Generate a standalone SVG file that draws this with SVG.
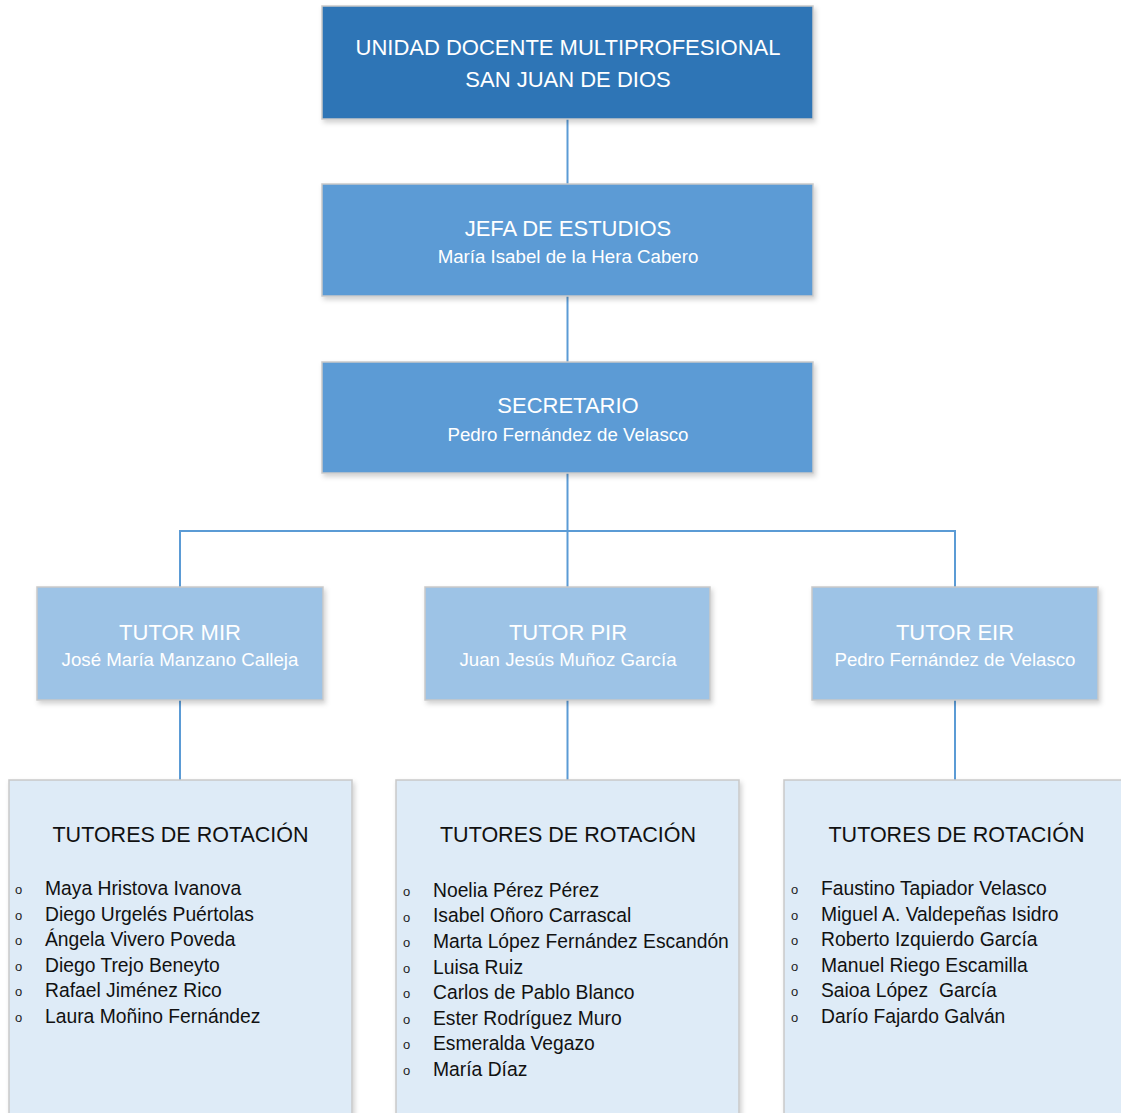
<svg xmlns="http://www.w3.org/2000/svg" width="1121" height="1113" viewBox="0 0 1121 1113">
<defs>
<filter id="sh" x="-5%" y="-5%" width="112%" height="115%">
<feDropShadow dx="2" dy="3" stdDeviation="2.5" flood-color="#000" flood-opacity="0.18"/>
</filter>
<style>
.box{stroke:#C9C9C9;stroke-width:1.5;filter:url(#sh)}
.b1{fill:#2E75B6}.b2{fill:#5B9BD5}.b3{fill:#9DC3E6}.b4{fill:#DEEBF7}
.t{font-family:"Liberation Sans",Arial,sans-serif;fill:#fff;text-anchor:middle}
.tt{font-size:22px}.ts{font-size:18.7px}
.h{font-family:"Liberation Sans",Arial,sans-serif;font-size:21.5px;fill:#111;text-anchor:middle}
.li{font-family:"Liberation Sans",Arial,sans-serif;font-size:19.3px;fill:#111}
.bu{font-family:"Liberation Sans",Arial,sans-serif;font-size:13px;fill:#222}
.c{stroke:#5B9BD5;stroke-width:2;fill:none}
</style>
</defs>
<rect width="1121" height="1113" fill="#fff"/>
<g id="connectors">
<line class="c" x1="567.5" y1="119" x2="567.5" y2="184"/>
<line class="c" x1="567.5" y1="296" x2="567.5" y2="362"/>
<line class="c" x1="567.5" y1="473" x2="567.5" y2="587"/>
<polyline class="c" points="180,587 180,531 955,531 955,587"/>
<line class="c" x1="180" y1="700" x2="180" y2="780"/>
<line class="c" x1="567.5" y1="700" x2="567.5" y2="780"/>
<line class="c" x1="955" y1="700" x2="955" y2="780"/>
</g>
<g id="unidad">
<rect class="box b1" x="322" y="6" width="491" height="113"/>
<text class="t tt" x="568" y="55">UNIDAD DOCENTE MULTIPROFESIONAL</text>
<text class="t tt" x="568" y="87">SAN JUAN DE DIOS</text>
</g>
<g id="jefa">
<rect class="box b2" x="322" y="184" width="491" height="112"/>
<text class="t tt" x="568" y="236">JEFA DE ESTUDIOS</text>
<text class="t ts" x="568" y="263">María Isabel de la Hera Cabero</text>
</g>
<g id="secretario">
<rect class="box b2" x="322" y="362" width="491" height="111"/>
<text class="t tt" x="568" y="413">SECRETARIO</text>
<text class="t ts" x="568" y="441">Pedro Fernández de Velasco</text>
</g>
<g id="tutor-mir">
<rect class="box b3" x="37" y="587" width="286" height="113"/>
<text class="t tt" x="180" y="640">TUTOR MIR</text>
<text class="t ts" x="180" y="666">José María Manzano Calleja</text>
</g>
<g id="tutor-pir">
<rect class="box b3" x="425" y="587" width="285" height="113"/>
<text class="t tt" x="568" y="640">TUTOR PIR</text>
<text class="t ts" x="568" y="666">Juan Jesús Muñoz García</text>
</g>
<g id="tutor-eir">
<rect class="box b3" x="812" y="587" width="286" height="113"/>
<text class="t tt" x="955" y="640">TUTOR EIR</text>
<text class="t ts" x="955" y="666">Pedro Fernández de Velasco</text>
</g>
<g id="rotacion-mir">
<rect class="box b4" x="9" y="780" width="343" height="345"/>
<text class="h" x="180.5" y="842">TUTORES DE ROTACIÓN</text>
<g class="bu"><text x="15" y="894">o</text><text x="15" y="920">o</text><text x="15" y="945">o</text><text x="15" y="971">o</text><text x="15" y="996">o</text><text x="15" y="1022">o</text></g>
<text class="li" x="45" y="895">Maya Hristova Ivanova</text>
<text class="li" x="45" y="921">Diego Urgelés Puértolas</text>
<text class="li" x="45" y="946">Ángela Vivero Poveda</text>
<text class="li" x="45" y="972">Diego Trejo Beneyto</text>
<text class="li" x="45" y="997">Rafael Jiménez Rico</text>
<text class="li" x="45" y="1023">Laura Moñino Fernández</text>
</g>
<g id="rotacion-pir">
<rect class="box b4" x="396" y="780" width="343" height="345"/>
<text class="h" x="568" y="842">TUTORES DE ROTACIÓN</text>
<g class="bu"><text x="403" y="896">o</text><text x="403" y="922">o</text><text x="403" y="947">o</text><text x="403" y="973">o</text><text x="403" y="998">o</text><text x="403" y="1024">o</text><text x="403" y="1049">o</text><text x="403" y="1075">o</text></g>
<text class="li" x="433" y="897">Noelia Pérez Pérez</text>
<text class="li" x="433" y="922">Isabel Oñoro Carrascal</text>
<text class="li" x="433" y="948">Marta López Fernández Escandón</text>
<text class="li" x="433" y="974">Luisa Ruiz</text>
<text class="li" x="433" y="999">Carlos de Pablo Blanco</text>
<text class="li" x="433" y="1025">Ester Rodríguez Muro</text>
<text class="li" x="433" y="1050">Esmeralda Vegazo</text>
<text class="li" x="433" y="1076">María Díaz</text>
</g>
<g id="rotacion-eir">
<rect class="box b4" x="784" y="780" width="345" height="345"/>
<text class="h" x="956.5" y="842">TUTORES DE ROTACIÓN</text>
<g class="bu"><text x="791" y="894">o</text><text x="791" y="920">o</text><text x="791" y="945">o</text><text x="791" y="971">o</text><text x="791" y="996">o</text><text x="791" y="1022">o</text></g>
<text class="li" x="821" y="895">Faustino Tapiador Velasco</text>
<text class="li" x="821" y="921">Miguel A. Valdepeñas Isidro</text>
<text class="li" x="821" y="946">Roberto Izquierdo García</text>
<text class="li" x="821" y="972">Manuel Riego Escamilla</text>
<text class="li" x="821" y="997" xml:space="preserve">Saioa López  García</text>
<text class="li" x="821" y="1023">Darío Fajardo Galván</text>
</g>
</svg>
